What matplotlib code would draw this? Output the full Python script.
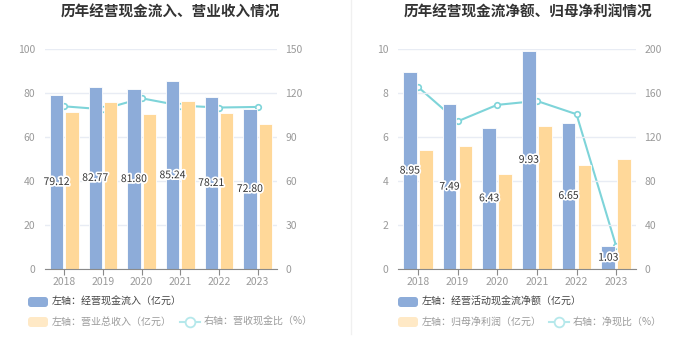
import numpy as np
import matplotlib
matplotlib.use('Agg')
import matplotlib.pyplot as plt
import matplotlib.patheffects as pe
from matplotlib.patches import FancyBboxPatch
from matplotlib.lines import Line2D

plt.rcParams['font.family'] = ['Noto Sans CJK SC', 'DejaVu Sans']

years = ['2018', '2019', '2020', '2021', '2022', '2023']

# left chart
cash_in = [79.12, 82.77, 81.80, 85.24, 78.21, 72.80]
revenue = [71.2, 75.9, 70.3, 76.5, 71.0, 65.9]
cash_ratio = [110.9, 108.9, 116.4, 111.4, 110.1, 110.5]

# right chart
net_cash = [8.95, 7.49, 6.43, 9.93, 6.65, 1.03]
net_profit = [5.40, 5.59, 4.32, 6.50, 4.73, 5.00]
net_ratio = [165.6, 134.2, 149.2, 152.8, 140.7, 20.7]

BLUE = '#8dacd9'
ORANGE = '#ffd899'
TEAL = '#7ed4d9'
GRID = '#e8ecf4'
TICK = '#9a9a9a'

W, H = 699, 359
fig = plt.figure(figsize=(W / 100, H / 100), dpi=100)


def px_axes(x0, x1, y0, y1):
    return fig.add_axes([x0 / W, 1 - y1 / H, (x1 - x0) / W, (y1 - y0) / H])


def panel(x0, x1, bars_a, bars_b, line, ymax_l, ymax_r, title, cx):
    ax = px_axes(x0, x1, 49, 269)
    x = np.arange(len(years))
    ax.bar(x - 0.2, bars_a, width=0.34, color=BLUE, edgecolor='white', linewidth=0.6, zorder=2)
    ax.bar(x + 0.2, bars_b, width=0.34, color=ORANGE, edgecolor='white', linewidth=0.6, zorder=2)
    ax.set_xlim(-0.5, len(years) - 0.5)
    ax.set_ylim(0, ymax_l)
    ax.set_yticks(np.linspace(0, ymax_l, 6))
    ax.yaxis.set_major_formatter(matplotlib.ticker.FuncFormatter(lambda v, p: f'{v:g}'))
    ax.grid(axis='y', color=GRID, linewidth=1, zorder=0)
    ax.set_axisbelow(True)
    for s in ['top', 'right', 'left']:
        ax.spines[s].set_visible(False)
    ax.spines['bottom'].set_color('#8a8a8a')
    ax.set_xticks(x)
    ax.set_xticklabels(years)
    ax.tick_params(axis='x', colors='#8a8a8a', labelcolor=TICK, labelsize=7.5, length=4, pad=1.5)
    ax.tick_params(axis='y', length=0, labelcolor=TICK, labelsize=7.5, pad=7)
    for xi, v in zip(x, bars_a):
        ax.text(xi - 0.2, v / 2, f'{v:.2f}', ha='center', va='center', fontsize=7.5, color='#333333',
                zorder=5, path_effects=[pe.withStroke(linewidth=2.5, foreground='white')])

    ax2 = ax.twinx()
    ax2.set_ylim(0, ymax_r)
    ax2.set_yticks(np.linspace(0, ymax_r, 6))
    ax2.yaxis.set_major_formatter(matplotlib.ticker.FuncFormatter(lambda v, p: f'{v:g}'))
    for s in ax2.spines.values():
        s.set_visible(False)
    ax2.tick_params(axis='y', length=0, labelcolor=TICK, labelsize=7.5, pad=6)
    ax2.plot(x, line, color=TEAL, linewidth=1.5, marker='o', markersize=4,
             markerfacecolor='white', markeredgecolor=TEAL, markeredgewidth=1.2, zorder=4)
    ax.set_zorder(ax2.get_zorder() + 1)
    ax.patch.set_visible(False)
    fig.text(cx / W, 1 - 11.5 / H, title, ha='center', va='center', fontsize=10.5,
             fontweight='bold', color='#333333')


panel(45, 277, cash_in, revenue, cash_ratio, 100, 150, '历年经营现金流入、营业收入情况', 170)
panel(398, 636, net_cash, net_profit, net_ratio, 10, 200, '历年经营现金流净额、归母净利润情况', 528)

# overlay for legends and separator
ov = fig.add_axes([0, 0, 1, 1])
ov.set_xlim(0, W)
ov.set_ylim(H, 0)
ov.axis('off')
ov.add_line(Line2D([351, 351], [0, 334], color='#f0f0f0', linewidth=1))


def legend(x0, lab1, lab2, lx, lab3):
    ov.add_patch(FancyBboxPatch((x0, 297), 20, 10, boxstyle='round,pad=0,rounding_size=3',
                                facecolor=BLUE, edgecolor='none'))
    ov.text(x0 + 24, 302, lab1, ha='left', va='center', fontsize=7.2, color='#444444')
    ov.add_patch(FancyBboxPatch((x0, 317), 20, 10, boxstyle='round,pad=0,rounding_size=3',
                                facecolor='#ffe9c6', edgecolor='none'))
    ov.text(x0 + 24, 322, lab2, ha='left', va='center', fontsize=7.2, color='#9a9a9a')
    ov.add_line(Line2D([lx, lx + 20], [322, 322], color='#b5e8eb', linewidth=1.5))
    ov.plot([lx + 10], [322], marker='o', markersize=7, markerfacecolor='white',
            markeredgecolor='#b5e8eb', markeredgewidth=1.3)
    ov.text(lx + 24, 322, lab3, ha='left', va='center', fontsize=7.2, color='#9a9a9a')


legend(28, '左轴：经营现金流入（亿元）', '左轴：营业总收入（亿元）', 180, '右轴：营收现金比（%）')
legend(398, '左轴：经营活动现金流净额（亿元）', '左轴：归母净利润（亿元）', 549, '右轴：净现比（%）')

fig.savefig('out.png', dpi=100, facecolor='white')
